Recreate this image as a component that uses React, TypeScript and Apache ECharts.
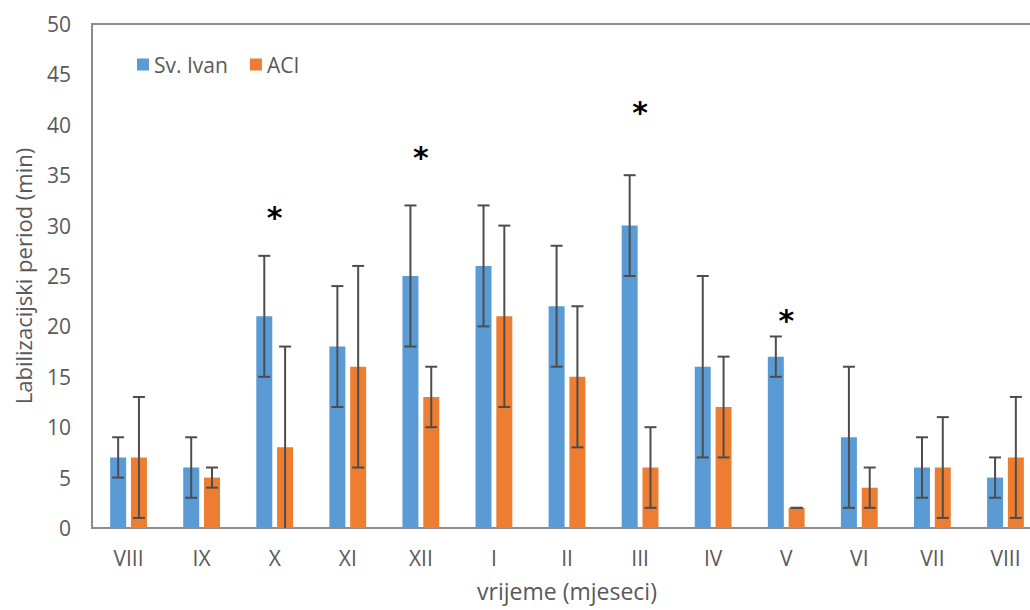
import React, { useEffect, useRef } from "react";
import * as echarts from "echarts";

const categories = ["VIII", "IX", "X", "XI", "XII", "I", "II", "III", "IV", "V", "VI", "VII", "VIII"];
const ivanValues = [7, 6, 21, 18, 25, 26, 22, 30, 16, 17, 9, 6, 5];
const ivanLow = [5, 3, 15, 12, 18, 20, 16, 25, 7, 15, 2, 3, 3];
const ivanHigh = [9, 9, 27, 24, 32, 32, 28, 35, 25, 19, 16, 9, 7];
const aciValues = [7, 5, 8, 16, 13, 21, 15, 6, 12, 2, 4, 6, 7];
const aciLow = [1, 4, -2, 6, 10, 12, 8, 2, 7, 2, 2, 1, 1];
const aciHigh = [13, 6, 18, 26, 16, 30, 22, 10, 17, 2, 6, 11, 13];
const asteriskY = [null, null, 31.2, null, 37.2, null, null, 41.6, null, 21, null, null, null];
const yTicks = { min: 0, max: 50, interval: 5 };

const BLUE = "#5B9BD5";
const ORANGE = "#ED7D31";
const TEXT = "#595959";
const AXIS = "#8C8C8C";
const ERR = "#4D4D4D";
const FONT = "'Open Sans', sans-serif";
const BAR_W = 16;
const BAR_GAP = 0.3;
const OFFSET = (BAR_W + BAR_W * BAR_GAP) / 2;

function errorSeries(low: number[], high: number[], dir: number) {
  return {
    type: "custom",
    clip: true,
    z: 5,
    data: low.map((l, i) => [i, l, high[i]]),
    renderItem: (params: any, api: any) => {
      const idx = api.value(0);
      const lo = api.coord([idx, api.value(1)]);
      const hi = api.coord([idx, api.value(2)]);
      const x = lo[0] + dir * OFFSET;
      const cap = 6;
      const style = { stroke: ERR, lineWidth: 2 };
      return {
        type: "group",
        children: [
          { type: "line", shape: { x1: x, y1: lo[1], x2: x, y2: hi[1] }, style },
          { type: "line", shape: { x1: x - cap, y1: hi[1], x2: x + cap, y2: hi[1] }, style },
          { type: "line", shape: { x1: x - cap, y1: lo[1], x2: x + cap, y2: lo[1] }, style },
        ],
      };
    },
  };
}

export default function App() {
  const ref = useRef<HTMLDivElement>(null);
  useEffect(() => {
    const chart = echarts.init(ref.current!, null, { renderer: "svg" });
    chart.setOption({
      animation: false,
      backgroundColor: "#ffffff",
      textStyle: { fontFamily: FONT },
      grid: {
        left: 92,
        width: 950,
        top: 24,
        height: 504,
        show: true,
        borderColor: AXIS,
        borderWidth: 2,
        containLabel: false,
        outerBoundsMode: "none",
      },
      legend: {
        left: 132,
        top: 49,
        itemWidth: 12,
        itemHeight: 12,
        itemGap: 22,
        icon: "rect",
        textStyle: { color: TEXT, fontSize: 21, fontFamily: FONT },
        data: ["Sv. Ivan", "ACI"],
      },
      xAxis: {
        type: "category",
        data: categories,
        axisLine: { lineStyle: { color: AXIS, width: 2 } },
        axisTick: { show: false },
        axisLabel: { color: TEXT, fontSize: 21, margin: 19, fontFamily: FONT },
        name: "vrijeme (mjeseci)",
        nameLocation: "middle",
        nameGap: 51,
        nameTextStyle: { color: TEXT, fontSize: 23, fontFamily: FONT },
      },
      yAxis: {
        type: "value",
        min: yTicks.min,
        max: yTicks.max,
        interval: yTicks.interval,
        axisLine: { show: true, lineStyle: { color: AXIS, width: 2 } },
        axisTick: { show: false },
        splitLine: { show: false },
        axisLabel: { color: TEXT, fontSize: 21, margin: 21, fontFamily: FONT },
        name: "Labilizacijski period (min)",
        nameLocation: "middle",
        nameGap: 58,
        nameRotate: 90,
        nameTextStyle: { color: TEXT, fontSize: 22, fontFamily: FONT },
      },
      series: [
        {
          name: "Sv. Ivan",
          type: "bar",
          data: ivanValues,
          barWidth: BAR_W,
          barGap: "30%",
          itemStyle: { color: BLUE },
        },
        {
          name: "ACI",
          type: "bar",
          data: aciValues,
          barWidth: BAR_W,
          barGap: "30%",
          itemStyle: { color: ORANGE },
        },
        errorSeries(ivanLow, ivanHigh, -1),
        errorSeries(aciLow, aciHigh, 1),
        {
          type: "custom",
          z: 6,
          data: asteriskY.map((v, i) => [i, v]).filter((d) => d[1] !== null),
          renderItem: (params: any, api: any) => {
            const p = api.coord([api.value(0), api.value(1)]);
            return {
              type: "text",
              x: p[0],
              y: p[1] + 4,
              style: {
                text: "*",
                fill: "#000000",
                font: "bold 30px 'DejaVu Sans', sans-serif",
                align: "center",
                verticalAlign: "middle",
              },
            };
          },
        },
      ],
    });
    return () => chart.dispose();
  }, []);
  return (
    <div
      ref={ref}
      style={{ position: "fixed", left: 0, top: 0, width: 1030, height: 610 }}
    />
  );
}
